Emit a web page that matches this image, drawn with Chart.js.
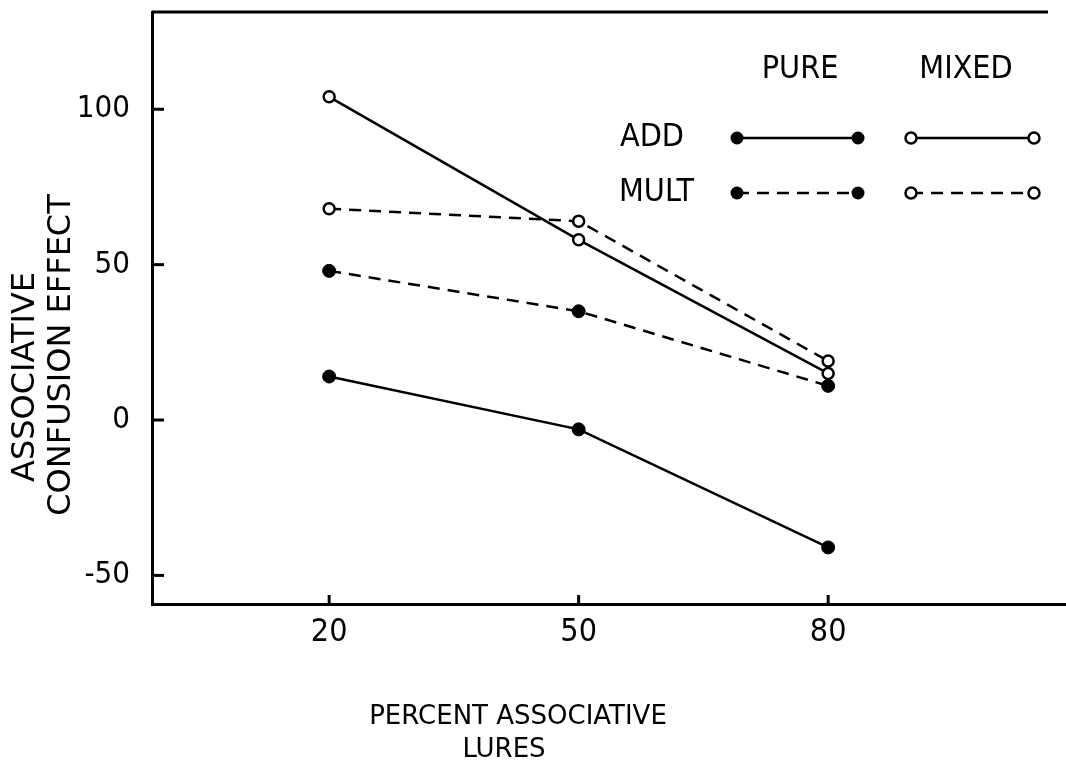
<!DOCTYPE html>
<html>
<head>
<meta charset="utf-8">
<script src="https://cdn.jsdelivr.net/npm/chart.js@4/dist/chart.umd.min.js"></script>
<style>
  html, body { margin: 0; padding: 0; background: #fff; overflow: hidden; }
  canvas { display: block; }
</style>
</head>
<body>
<canvas id="confusionChart" width="1066" height="763"></canvas>
<script>
// values
const percentLures = [20, 50, 80];
const addPure = [14, -3, -41];
const multPure = [48, 35, 11];
const addMixed = [104, 58, 15];
const multMixed = [68, 64, 19];
const xTickValues = [20, 50, 80];
const yTickValues = [-50, 0, 50, 100];
const yTitleLines = ['ASSOCIATIVE', 'CONFUSION EFFECT'];
const xTitleLines = ['PERCENT ASSOCIATIVE', 'LURES'];

const FONT = '"Liberation Sans Narrow", "DejaVu Sans Condensed", "Liberation Sans", sans-serif';
const TITLE_FONT = '"DejaVu Sans", "Liberation Sans", sans-serif';
const DASH = [12, 8];

function toPoints(values) {
    return percentLures.map((x, i) => ({ x: x, y: values[i] }));
}

function series(label, values, filled, dashed) {
    return {
        label: label,
        data: toPoints(values),
        borderColor: '#000',
        borderWidth: 2.5,
        borderDash: dashed ? DASH : [],
        pointRadius: filled ? 6.5 : 5.5,
        pointBorderWidth: filled ? 1 : 2.5,
        pointBackgroundColor: filled ? '#000' : '#fff',
        pointBorderColor: '#000',
        fill: false,
        tension: 0
    };
}

// inward tick marks, the open top line, axis titles and the keyed legend
const frameAndKey = {
    id: 'frameAndKey',
    afterDatasetsDraw(chart) {
        const ctx = chart.ctx;
        const area = chart.chartArea;
        const xs = chart.scales.x;
        const ys = chart.scales.y;
        ctx.save();
        ctx.strokeStyle = '#000';
        ctx.lineWidth = 3;
        ctx.setLineDash([]);

        // top line stops short of the right edge
        ctx.beginPath();
        ctx.moveTo(area.left, area.top);
        ctx.lineTo(1048, area.top);
        ctx.stroke();

        yTickValues.forEach(v => {
            const py = ys.getPixelForValue(v);
            ctx.beginPath();
            ctx.moveTo(area.left, py);
            ctx.lineTo(area.left + 12, py);
            ctx.stroke();
        });
        xTickValues.forEach(v => {
            const px = xs.getPixelForValue(v);
            ctx.beginPath();
            ctx.moveTo(px, area.bottom);
            ctx.lineTo(px, area.bottom - 9);
            ctx.stroke();
        });

        // axis titles
        ctx.fillStyle = '#000';
        ctx.textBaseline = 'middle';
        ctx.textAlign = 'center';
        ctx.font = '26px ' + TITLE_FONT;
        ctx.fillText(xTitleLines[0], 518, 717);
        ctx.fillText(xTitleLines[1], 504, 750);

        ctx.font = '32px ' + TITLE_FONT;
        ctx.save();
        ctx.translate(26, 377);
        ctx.rotate(-Math.PI / 2);
        ctx.fillText(yTitleLines[0], 0, 0);
        ctx.restore();
        ctx.save();
        ctx.translate(62, 355);
        ctx.rotate(-Math.PI / 2);
        ctx.fillText(yTitleLines[1], 0, 0);
        ctx.restore();

        // key
        ctx.font = '32px ' + FONT;
        ctx.textAlign = 'center';
        ctx.fillText('PURE', 800, 70);
        ctx.fillText('MIXED', 966, 70);
        ctx.textAlign = 'left';
        ctx.fillText('ADD', 620, 138);
        ctx.fillText('MULT', 619, 193);

        const rows = [
            { y: 138, dash: [] },
            { y: 193, dash: DASH }
        ];
        rows.forEach(r => {
            [[737, 858, true], [911, 1034, false]].forEach(seg => {
                ctx.lineWidth = 2.5;
                ctx.setLineDash(r.dash);
                ctx.beginPath();
                ctx.moveTo(seg[0], r.y);
                ctx.lineTo(seg[1], r.y);
                ctx.stroke();
                ctx.setLineDash([]);
                [seg[0], seg[1]].forEach(px => {
                    ctx.beginPath();
                    if (seg[2]) {
                        ctx.arc(px, r.y, 6.5, 0, Math.PI * 2);
                        ctx.fillStyle = '#000';
                        ctx.fill();
                    } else {
                        ctx.arc(px, r.y, 5.5, 0, Math.PI * 2);
                        ctx.fillStyle = '#fff';
                        ctx.fill();
                        ctx.stroke();
                    }
                });
            });
        });
        ctx.restore();
    }
};

const ctx = document.getElementById('confusionChart').getContext('2d');
const confusionChart = new Chart(ctx, {
    type: 'line',
    data: {
        datasets: [
            series('ADD PURE', addPure, true, false),
            series('MULT PURE', multPure, true, true),
            series('ADD MIXED', addMixed, false, false),
            series('MULT MIXED', multMixed, false, true)
        ]
    },
    options: {
        responsive: false,
        animation: false,
        devicePixelRatio: 1,
        layout: { autoPadding: false, padding: { top: 12, right: 0, left: 0, bottom: 0 } },
        plugins: {
            legend: { display: false },
            tooltip: { enabled: false }
        },
        scales: {
            x: {
                type: 'linear',
                min: -1.3,
                max: 108.6,
                afterBuildTicks: function (scale) {
                    scale.ticks = xTickValues.map(v => ({ value: v }));
                },
                afterFit: function (scale) {
                    scale.height = 159;
                    scale.paddingLeft = 0;
                    scale.paddingRight = 0;
                },
                grid: { display: false, drawTicks: false },
                border: { display: true, color: '#000', width: 3 },
                ticks: {
                    color: '#000',
                    padding: 9,
                    font: { family: FONT, size: 32 }
                }
            },
            y: {
                type: 'linear',
                min: -59.2,
                max: 131.3,
                afterBuildTicks: function (scale) {
                    scale.ticks = yTickValues.map(v => ({ value: v }));
                },
                afterFit: function (scale) {
                    scale.width = 152;
                    scale.paddingTop = 0;
                    scale.paddingBottom = 0;
                },
                grid: { display: false, drawTicks: false },
                border: { display: true, color: '#000', width: 3 },
                ticks: {
                    color: '#000',
                    padding: 22,
                    font: { family: FONT, size: 31 }
                }
            }
        }
    },
    plugins: [frameAndKey]
});
</script>
</body>
</html>
